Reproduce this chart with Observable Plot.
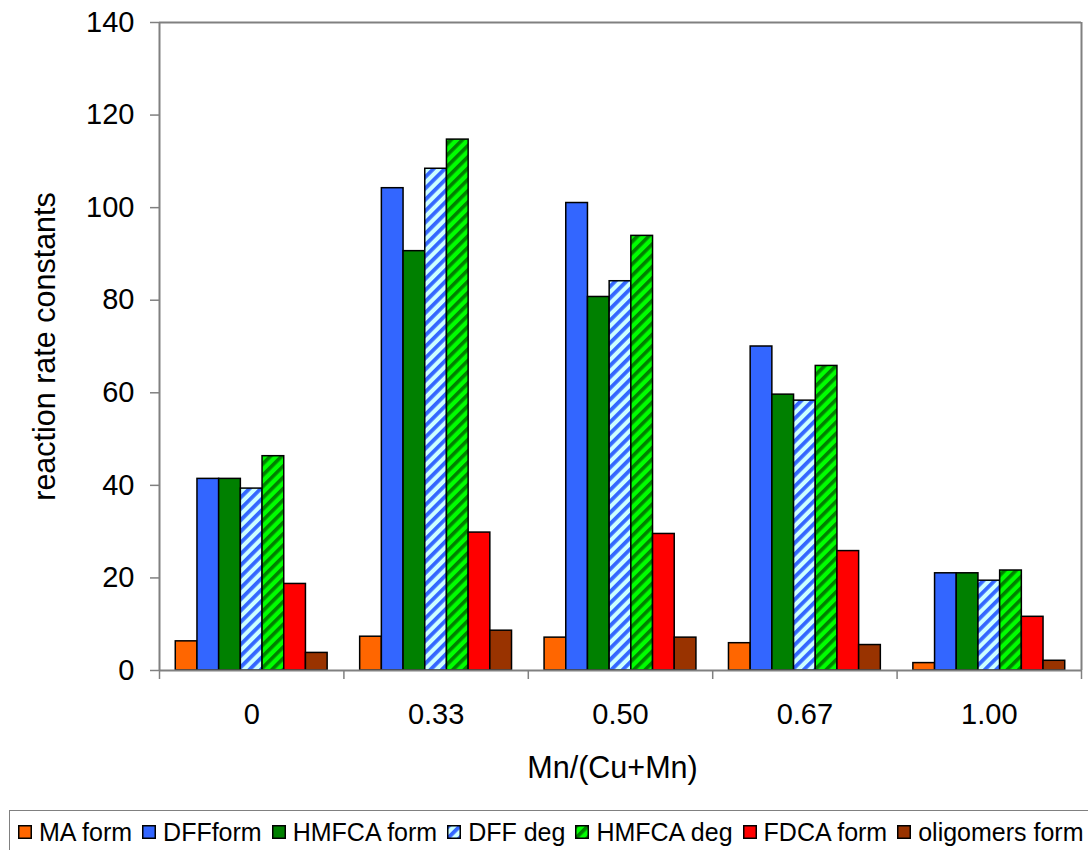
<!DOCTYPE html>
<html>
<head>
<meta charset="utf-8">
<script src="https://cdn.jsdelivr.net/npm/d3@7"></script>
<script src="https://cdn.jsdelivr.net/npm/@observablehq/plot@0.6"></script>
<style>
  body { margin: 0; background: #fff; font-family: "Liberation Sans", Arial, sans-serif; }
  #chart { position: relative; width: 1088px; height: 850px; overflow: hidden; }
  #legend {
    position: absolute; left: 9px; top: 810px; width: 1100px;
    border: 1.5px solid #808080; box-sizing: border-box;
    display: flex; align-items: center; height: 44px; padding-left: 8px;
    font-size: 25px; color: #000; white-space: nowrap;
  }
  .item { display: flex; align-items: center; margin-right: 10px; }
  .item svg { margin-right: 7px; }
</style>
</head>
<body>
<div id="chart"><div id="plot"></div><div id="legend"></div></div>
<script>
// ---- data ----
const groups = ["0", "0.33", "0.50", "0.67", "1.00"];
const series = ["MA form", "DFFform", "HMFCA form", "DFF deg", "HMFCA deg", "FDCA form", "oligomers form"];
const maForm        = [6.3, 7.3, 7.1, 5.9, 1.6];
const dffForm       = [41.4, 104.2, 101.0, 70.0, 21.0];
const hmfcaForm     = [41.4, 90.6, 80.7, 59.6, 21.0];
const dffDeg        = [39.3, 108.4, 84.1, 58.3, 19.4];
const hmfcaDeg      = [46.3, 114.7, 93.9, 65.8, 21.6];
const fdcaForm      = [18.7, 29.8, 29.5, 25.8, 11.6];
const oligomersForm = [3.8, 8.6, 7.1, 5.5, 2.1];
const yTicks = [0, 20, 40, 60, 80, 100, 120, 140];

const seriesValues = [maForm, dffForm, hmfcaForm, dffDeg, hmfcaDeg, fdcaForm, oligomersForm];
const fills = ["#ff6600", "#3366ff", "#008000", "url(#pDffDeg)", "url(#pHmfcaDeg)", "#ff0000", "#993300"];

// Excel-like clustered layout: gap width 150% -> bar width = 1/(n + 1.5) of a category
const bw = 1 / (series.length + 1.5);
const rows = [];
series.forEach((s, si) => {
  seriesValues[si].forEach((v, gi) => {
    const x1 = gi + (si - series.length / 2) * bw;
    rows.push({group: groups[gi], series: s, value: v, x1, x2: x1 + bw});
  });
});
const boundaries = d3.range(groups.length + 1).map(i => i - 0.5);
const gray = "#808080";

const plot = Plot.plot({
  width: 1088,
  height: 805,
  marginLeft: 159,
  marginRight: 7,
  marginTop: 22,
  marginBottom: 135,
  style: {fontFamily: "Liberation Sans, Arial, sans-serif", fontSize: "28px", background: "white", overflow: "visible"},
  x: {type: "linear", domain: [-0.5, groups.length - 0.5], label: null},
  y: {domain: [0, 140], label: null},
  color: {domain: series, range: fills},
  marks: [
    Plot.rectY(rows, {x1: "x1", x2: "x2", y: "value", fill: "series", stroke: "black", strokeWidth: 1.5}),
    Plot.ruleY([140], {stroke: gray, strokeWidth: 2}),
    Plot.ruleX([groups.length - 0.5], {stroke: gray, strokeWidth: 2}),
    Plot.ruleX([-0.5], {stroke: gray, strokeWidth: 2}),
    Plot.ruleY([0], {stroke: gray, strokeWidth: 2}),
    Plot.axisY(yTicks, {tickSize: 9, tickPadding: 16, stroke: gray, strokeWidth: 1.5, label: null, fontSize: 29}),
    Plot.axisX(boundaries, {tickSize: 9, tickFormat: () => "", stroke: gray, strokeWidth: 1.5, label: null}),
    Plot.axisX(d3.range(groups.length), {tickSize: 0, tickPadding: 33, tickFormat: i => groups[i], label: null, fontSize: 29}),
    Plot.text(["Mn/(Cu+Mn)"], {frameAnchor: "bottom", dy: 98, dx: -8, lineAnchor: "middle", textAnchor: "middle", fontSize: 30.5}),
    Plot.text(["reaction rate constants"], {frameAnchor: "left", rotate: -90, dx: -114, lineAnchor: "middle", textAnchor: "middle", fontSize: 30.5})
  ]
});

// patterns
const ns = "http://www.w3.org/2000/svg";
const defs = document.createElementNS(ns, "defs");
defs.innerHTML = `
  <pattern id="pDffDeg" patternUnits="userSpaceOnUse" width="8" height="8" patternTransform="rotate(45)">
    <rect width="8" height="8" fill="#ccffff"/>
    <rect width="3.8" height="8" fill="#3366ff"/>
  </pattern>
  <pattern id="pHmfcaDeg" patternUnits="userSpaceOnUse" width="8" height="8" patternTransform="rotate(45)">
    <rect width="8" height="8" fill="#00ff00"/>
    <rect width="3.6" height="8" fill="#008000"/>
  </pattern>`;
plot.insertBefore(defs, plot.firstChild);
document.getElementById("plot").appendChild(plot);

// legend
const legend = document.getElementById("legend");
series.forEach((s, i) => {
  const item = document.createElement("div");
  item.className = "item";
  item.innerHTML = `<svg width="14" height="14"><rect x="0.75" y="0.75" width="12.5" height="12.5" fill="${fills[i]}" stroke="black" stroke-width="1.5"/></svg><span>${s}</span>`;
  legend.appendChild(item);
});
</script>
</body>
</html>
